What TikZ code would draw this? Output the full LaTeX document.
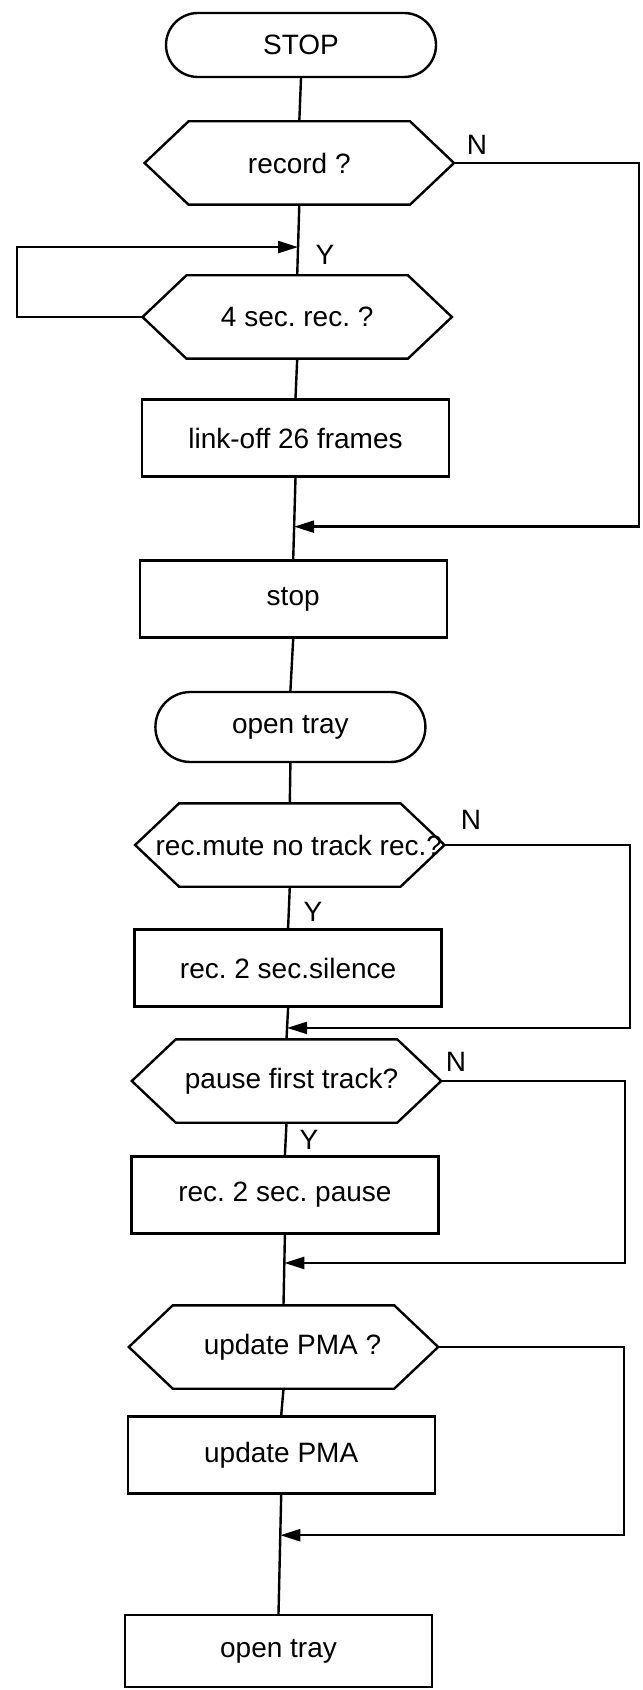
\documentclass[tikz,border=0pt]{standalone}
\usepackage{fontspec}
\setmainfont{Liberation Sans}
\usetikzlibrary{positioning,arrows.meta,calc}

\begin{document}
\begin{tikzpicture}[x=0.5pt, y=-0.5pt, line width=1.2pt,
  font=\fontsize{14}{16}\selectfont\frenchspacing,
  term/.style={draw, rounded corners=16pt, minimum width=135pt, minimum height=32pt, inner sep=0pt},
  proc/.style={draw, minimum width=153.5pt, minimum height=38.5pt, inner sep=0pt},
  hexa/.style={minimum width=153.5pt, minimum height=40.5pt, inner sep=0pt},
  flow/.style={-{Triangle[length=10pt, width=6pt]}},
  yn/.style={inner sep=0pt}]
  \useasboundingbox (0,0) rectangle (642,1690);

  % main column
  \node[term] (stop_t) at (301,45) {STOP};
  \node[hexa] (q_rec) at (299.3,163) {record ?};
  \node[hexa] (q_four) at (297.2,317) {4 sec. rec. ?};
  \node[proc] (lnk) at (295.5,438) {link-off 26 frames};
  \node[proc] (stp) at (293.2,599) {stop};
  \node[term, minimum height=35pt, rounded corners=17.5pt] (tray1) at (290.4,727) {open tray};
  \node[hexa] (q_mute) at (289.8,845) {\hspace*{9pt}rec.mute no track rec.?};
  \node[proc] (sil) at (288.1,968) {rec. 2 sec.silence};
  \node[hexa] (q_pause) at (286.5,1081) {\hspace*{5pt}pause first track?};
  \node[proc] (pse) at (284.9,1195) {rec. 2 sec. pause};
  \node[hexa] (q_pma) at (283.5,1347) {\hspace*{9pt}update PMA ?};
  \node[proc] (pma) at (281.2,1455) {update PMA};
  \node[proc, minimum height=36pt] (tray2) at (278.5,1651) {open tray};

  % hexagon outlines
  \foreach \n in {q_rec,q_four,q_mute,q_pause,q_pma}
    \draw (\n.west) -- ($(\n.north west)+(44,0)$) -- ($(\n.north east)+(-44,0)$)
      -- (\n.east) -- ($(\n.south east)+(-44,0)$) -- ($(\n.south west)+(44,0)$) -- cycle;

  % main line
  \draw (stop_t.south) -- (q_rec.north);
  \draw (q_rec.south) -- (q_four.north);
  \draw (q_four.south) -- (lnk.north);
  \draw (lnk.south) -- (stp.north);
  \draw (stp.south) -- (tray1.north);
  \draw (tray1.south) -- (q_mute.north);
  \draw (q_mute.south) -- (sil.north);
  \draw (sil.south) -- (q_pause.north);
  \draw (q_pause.south) -- (pse.north);
  \draw (pse.south) -- (q_pma.north);
  \draw (q_pma.south) -- (pma.north);
  \draw (pma.south) -- (tray2.north);

  % junctions and side rails
  \coordinate (jy) at ($(q_rec.south)!0.6!(q_four.north)$);
  \coordinate (j1) at ($(lnk.south)!0.6!(stp.north)$);
  \coordinate (j2) at ($(sil.south)!0.64!(q_pause.north)$);
  \coordinate (j3) at ($(pse.south)!0.4!(q_pma.north)$);
  \coordinate (j4) at ($(pma.south)!0.34!(tray2.north)$);
  \coordinate (el) at (17,0);
  \coordinate (r1) at (639,0);
  \coordinate (r2) at (630,0);
  \coordinate (r3) at (625,0);
  \coordinate (r4) at (624,0);

  \draw[flow] (q_rec.east) -| (j1 -| r1) -- (j1);
  \draw[flow] (q_four.west) -- (q_four.west -| el) |- (jy);
  \draw[flow] (q_mute.east) -| (j2 -| r2) -- (j2);
  \draw[flow] (q_pause.east) -| (j3 -| r3) -- (j3);
  \draw[flow] (q_pma.east) -| (j4 -| r4) -- (j4);

  % Y / N labels
  \node[yn] (n_rec) at (477,145) {N};
  \node[yn] (y_rec) at (325,255) {Y};
  \node[yn] (n_mute) at (471,820) {N};
  \node[yn] (y_mute) at (313,912) {Y};
  \node[yn] (n_pause) at (456,1062) {N};
  \node[yn] (y_pause) at (309,1140) {Y};
\end{tikzpicture}
\end{document}
